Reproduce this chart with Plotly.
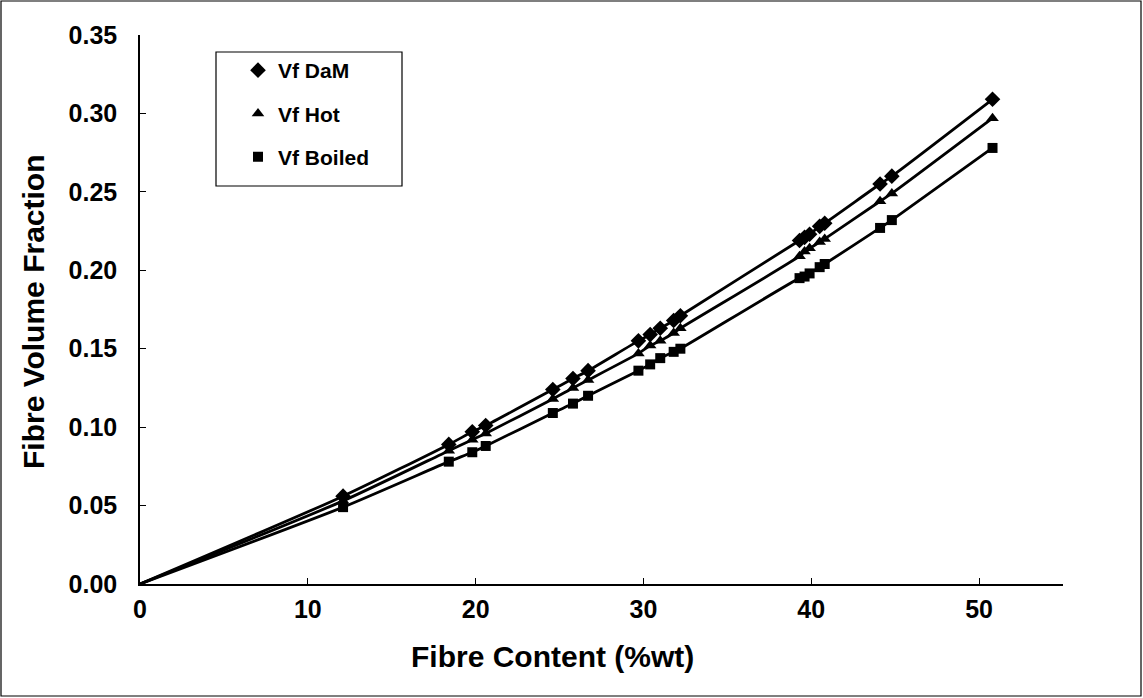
import plotly.graph_objects as go

# Fibre content (%wt) shared by all three series
fibre_content = [12.1, 18.4, 19.8, 20.6, 24.6, 25.8, 26.7, 29.7, 30.4, 31.0,
                 31.8, 32.2, 39.3, 39.6, 39.9, 40.5, 40.8, 44.1, 44.8, 50.8]

vf_dam = [0.056, 0.089, 0.097, 0.101, 0.124, 0.131, 0.136, 0.155, 0.159, 0.163,
          0.168, 0.171, 0.219, 0.221, 0.223, 0.228, 0.230, 0.255, 0.260, 0.309]
vf_hot = [0.053, 0.085, 0.092, 0.096, 0.118, 0.125, 0.130, 0.147, 0.152, 0.155,
          0.160, 0.163, 0.209, 0.212, 0.214, 0.218, 0.220, 0.244, 0.249, 0.297]
vf_boiled = [0.049, 0.078, 0.084, 0.088, 0.109, 0.115, 0.120, 0.136, 0.140, 0.144,
             0.148, 0.150, 0.195, 0.196, 0.198, 0.202, 0.204, 0.227, 0.232, 0.278]

series_names = ["Vf DaM", "Vf Hot", "Vf Boiled"]
series_values = [vf_dam, vf_hot, vf_boiled]
symbols = ["diamond", "triangle-up", "square"]
sizes = [12, 11, 10]

x_ticks = [0, 10, 20, 30, 40, 50]
y_ticks = [0.00, 0.05, 0.10, 0.15, 0.20, 0.25, 0.30, 0.35]

W, H = 1143, 698
L, T, R, B = 140, 35, 80, 114
FONT = "Liberation Sans"

fig = go.Figure()

# fitted curves through the origin
for name, vals in zip(series_names, series_values):
    fig.add_trace(go.Scatter(
        x=[0] + fibre_content, y=[0] + vals, mode="lines",
        line=dict(color="black", width=2.8, shape="spline", smoothing=0.6),
        showlegend=False, hoverinfo="skip"))

for i, (name, vals, sym, sz) in enumerate(zip(series_names, series_values, symbols, sizes)):
    fig.add_trace(go.Scatter(
        x=fibre_content, y=vals, mode="markers", name=f"<b>{name}</b>",
        legendgroup=f"g{i}",
        marker=dict(symbol=sym, size=sz, color="black", line=dict(width=0))))

pw = W - L - R
ph = H - T - B

def px_x(p):
    return (p - L) / pw

def px_y(p):
    return (H - B - p) / ph

# outer chart border
fig.add_shape(type="rect", xref="paper", yref="paper",
              x0=px_x(1), x1=px_x(W - 2), y0=px_y(H - 2), y1=px_y(1),
              line=dict(color="black", width=1.2), fillcolor="rgba(0,0,0,0)")
# legend border
fig.add_shape(type="rect", xref="paper", yref="paper",
              x0=px_x(216), x1=px_x(402), y0=px_y(186), y1=px_y(52),
              line=dict(color="black", width=1.2), fillcolor="rgba(0,0,0,0)")

fig.add_annotation(text="<b>Fibre Content (%wt)</b>", xref="paper", yref="paper",
                   x=px_x(552), y=px_y(656), showarrow=False,
                   font=dict(family=FONT, size=30, color="black"),
                   xanchor="center", yanchor="middle")
fig.add_annotation(text="<b>Fibre Volume Fraction</b>", xref="paper", yref="paper",
                   x=px_x(33), y=px_y(312), showarrow=False, textangle=-90,
                   font=dict(family=FONT, size=30, color="black"),
                   xanchor="center", yanchor="middle")

fig.update_layout(
    width=W, height=H,
    margin=dict(l=L, r=R, t=T, b=B),
    paper_bgcolor="white", plot_bgcolor="white",
    font=dict(family=FONT, color="black"),
    legend=dict(x=px_x(238), y=px_y(50), xanchor="left", yanchor="top",
                bgcolor="rgba(0,0,0,0)", borderwidth=0,
                font=dict(family=FONT, size=21, color="black"),
                tracegroupgap=13, itemwidth=30),
    xaxis=dict(range=[0, 55], tickvals=x_ticks, ticktext=[f"<b>{v}</b>" for v in x_ticks],
               ticks="inside", ticklen=6, tickwidth=1, tickcolor="black",
               showline=True, linecolor="black", linewidth=1.5,
               showgrid=False, zeroline=False,
               tickfont=dict(family=FONT, size=25, color="black"),
               ticklabelstandoff=2),
    yaxis=dict(range=[0, 0.35], tickvals=y_ticks, ticktext=[f"<b>{v:.2f}</b>" for v in y_ticks],
               ticks="inside", ticklen=6, tickwidth=1, tickcolor="black",
               showline=True, linecolor="black", linewidth=1.5,
               showgrid=False, zeroline=False,
               tickfont=dict(family=FONT, size=25, color="black"),
               ticklabelstandoff=16),
)

fig.write_html("out.html")
